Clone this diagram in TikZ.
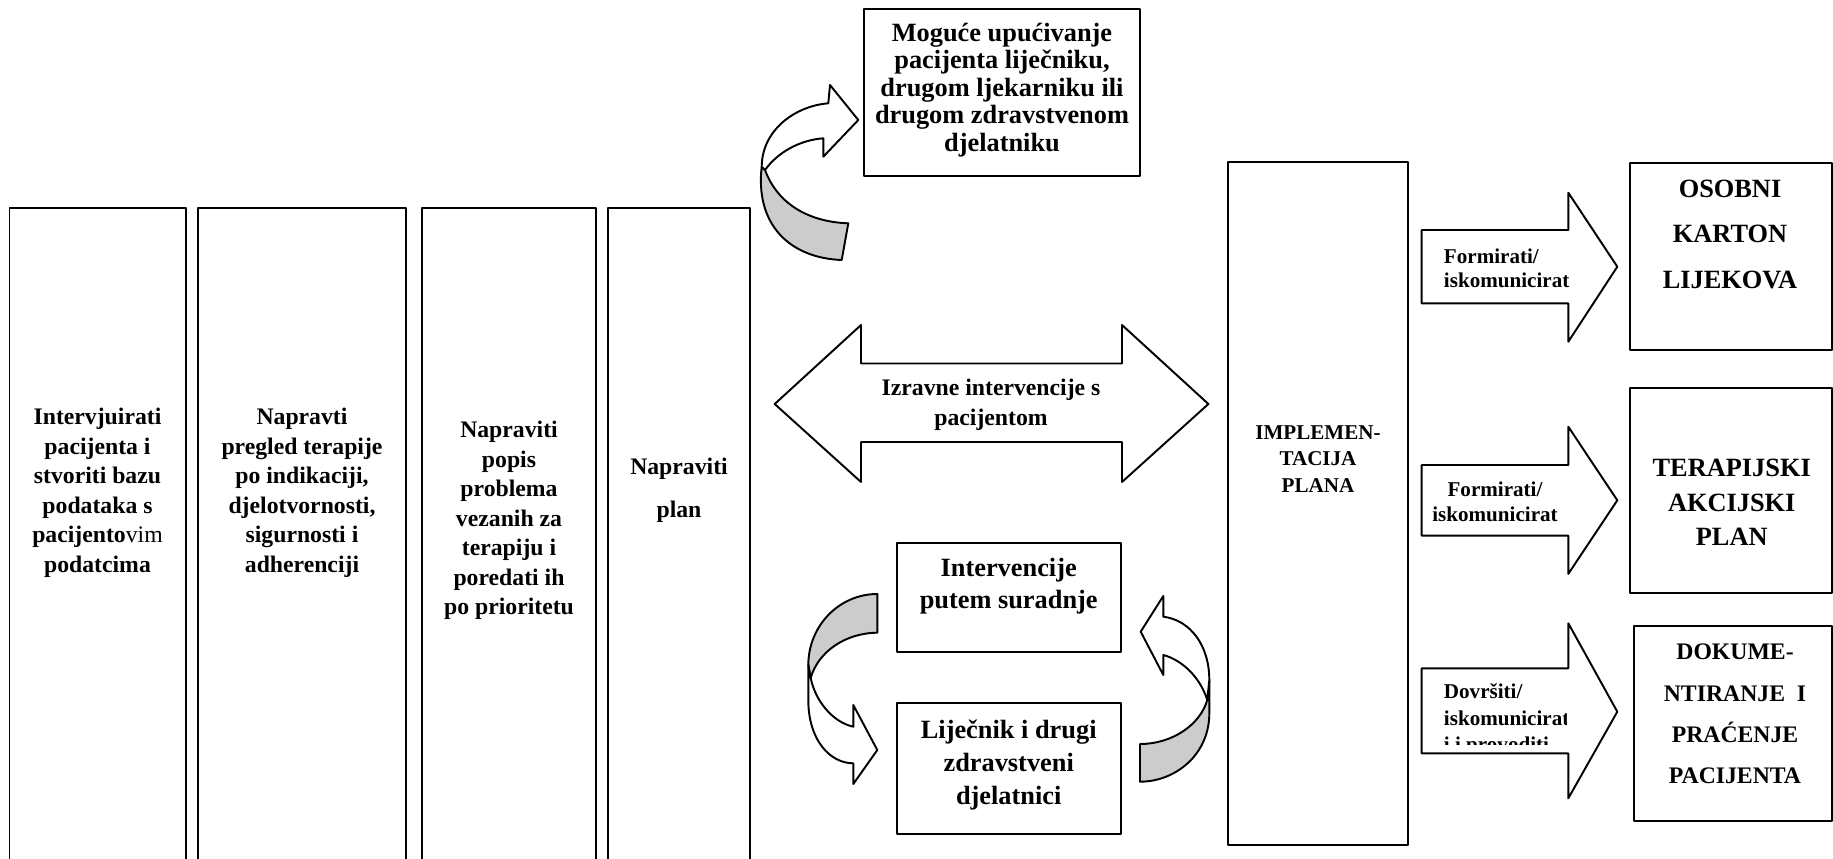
\documentclass[tikz,border=0pt]{standalone}
\usepackage{fontspec}
\setmainfont{Liberation Serif}

\begin{document}
\begin{tikzpicture}[x=0.02cm, y=-0.02cm, line width=1.1pt, line join=round,
    txt/.style={align=center, inner sep=0pt, font=\bfseries\fontsize{13.5}{16.8}\selectfont},
    bigtxt/.style={txt, font=\bfseries\fontsize{15}{18}\selectfont},
    smalltxt/.style={inner sep=0pt, font=\bfseries\fontsize{12}{14}\selectfont},
    back/.style={draw, fill=black!20},
    front/.style={draw, fill=white}]
  \useasboundingbox (0, 0) rectangle (1833, 859);%
  % stupci
  \draw (9.5, 208) rectangle (186, 875);%
  \draw (198, 208) rectangle (406, 875);%
  \draw (422, 208) rectangle (596, 875);%
  \draw (608, 208) rectangle (750, 875);%
  \node [txt] (intervju) at (97.5, 493) {Intervjuirati\\pacijenta i\\stvoriti bazu\\%
    podataka s\\pacijento{\mdseries vim}\\podatcima};%
  \node [txt] (pregled) at (302, 493) {Napravti\\pregled terapije\\po indikaciji,\\%
    djelotvornosti,\\sigurnosti i\\adherenciji};%
  \node [txt] (popis) at (509, 520.5) {Napraviti\\popis\\problema\\vezanih za\\%
    terapiju i\\poredati ih\\po prioritetu};%
  \node [txt, font=\bfseries\fontsize{13.5}{24.6}\selectfont] (plan) at (679, 490) {Napraviti\\plan};%
  % upucivanje
  \draw (864, 9) rectangle (1140, 176);%
  \node [bigtxt, font=\bfseries\fontsize{15}{15.6}\selectfont] (upucivanje) at (1002, 90) {%
    Moguće upućivanje\\pacijenta liječniku,\\drugom ljekarniku ili\\drugom zdravstvenom\\djelatniku};%
  \draw [back] (761.7, 166.7) .. controls (755, 225) and (790, 258) .. (841.7, 260)
    -- (848.3, 223.3) .. controls (810, 222) and (778, 205) .. (765, 170) -- cycle;%
  \draw [front] (761.7, 166.7) .. controls (762, 130) and (795, 106) .. (828.3, 103.3)
    -- (830, 85) -- (858.3, 120) -- (823.3, 156.7) -- (823.3, 138.3)
    .. controls (800, 140) and (778, 152) .. (765, 170) -- cycle;%
  % izravne intervencije
  \draw (774.7, 404) -- (861, 325) -- (861, 363.5) -- (1122, 363.5) -- (1122, 325)
    -- (1208.4, 404) -- (1122, 482) -- (1122, 442) -- (861, 442) -- (861, 482) -- cycle;%
  \node [txt] (izravne) at (991, 405) {Izravne intervencije s\\pacijentom};%
  % suradnja
  \draw (897, 543) rectangle (1121, 652);%
  \draw (897, 703) rectangle (1121, 834);%
  \node [bigtxt] (suradnja) at (1008.7, 586) {Intervencije\\putem suradnje};%
  \node [bigtxt, font=\bfseries\fontsize{15}{18.8}\selectfont] (lijecnik) at (1008.7, 765) {%
    Liječnik i drugi\\zdravstveni\\djelatnici};%
  \draw [back] (877.3, 594) .. controls (839, 594) and (808.3, 626) .. (808.3, 665)
    -- (810.7, 678) .. controls (818, 652) and (845, 633) .. (877.3, 632.7) -- cycle;%
  \draw [front] (808.3, 665) -- (808.3, 700) .. controls (808.3, 740) and (830, 763.3) .. (853.3, 763.3)
    -- (853.3, 784) -- (877.3, 750) -- (853.3, 705) -- (853.3, 726.7)
    .. controls (832, 722) and (815, 700) .. (810.7, 678) -- cycle;%
  \draw [back] (1209.3, 680) -- (1209.3, 713.3) .. controls (1209.3, 755) and (1175, 781.7) .. (1140, 781.7)
    -- (1140, 744) .. controls (1172, 744) and (1200, 725) .. (1207.3, 700) -- cycle;%
  \draw [front] (1163.3, 616.7) .. controls (1190, 620) and (1209.3, 645) .. (1209.3, 680)
    -- (1207.3, 700) .. controls (1200, 677) and (1182, 660) .. (1163.3, 655)
    -- (1163.3, 675) -- (1140.7, 631.7) -- (1163.3, 596) -- cycle;%
  % implementacija
  \draw (1228, 162) rectangle (1408, 845);%
  \node [txt, font=\bfseries\fontsize{12}{15.3}\selectfont] (implementacija) at (1318, 459) {%
    IMPLEMEN-\\TACIJA\\PLANA};%
  % strelice desno
  \draw (1421.7, 230) -- (1568.3, 230) -- (1568.3, 192.7) -- (1617.3, 266.7)
    -- (1568.3, 341.7) -- (1568.3, 303.3) -- (1421.7, 303.3) -- cycle;%
  \draw (1421.7, 465) -- (1568.3, 465) -- (1568.3, 426.7) -- (1617.3, 500.3)
    -- (1568.3, 573.9) -- (1568.3, 535.6) -- (1421.7, 535.6) -- cycle;%
  \draw (1421.7, 668.3) -- (1568.3, 668.3) -- (1568.3, 623.3) -- (1617.3, 711.7)
    -- (1568.3, 798.3) -- (1568.3, 753.3) -- (1421.7, 753.3) -- cycle;%
  \node [smalltxt, align=left, anchor=west] (formirati1) at (1443, 268.4) {Formirati/\\iskomunicirat};%
  \node [smalltxt, align=center] (formirati2) at (1495, 502) {Formirati/\\iskomunicirat};%
  \begin{scope}
    \clip (1425, 670) rectangle (1566, 744);%
    \node [smalltxt, align=left, anchor=west, font=\bfseries\fontsize{12}{15.1}\selectfont] (dovrsiti)
      at (1443, 720) {Dovršiti/\\iskomunicirat\\i i provoditi};%
  \end{scope}
  % kartoni
  \draw (1630, 163) rectangle (1832, 350);%
  \draw (1630, 388) rectangle (1832, 593);%
  \draw (1634, 626) rectangle (1832, 821);%
  \node [bigtxt, font=\bfseries\fontsize{15}{26}\selectfont] (karton) at (1730, 234.4) {%
    OSOBNI\\KARTON\\LIJEKOVA};%
  \node [bigtxt, font=\bfseries\fontsize{15}{19.6}\selectfont] (akcijski) at (1731.7, 502.7) {%
    TERAPIJSKI\\AKCIJSKI\\PLAN};%
  \node [txt, font=\bfseries\fontsize{13.5}{23.6}\selectfont] (dokumentiranje) at (1735, 714) {%
    DOKUME-\\NTIRANJE\ \ I\\PRAĆENJE\\PACIJENTA};%
\end{tikzpicture}
\end{document}
